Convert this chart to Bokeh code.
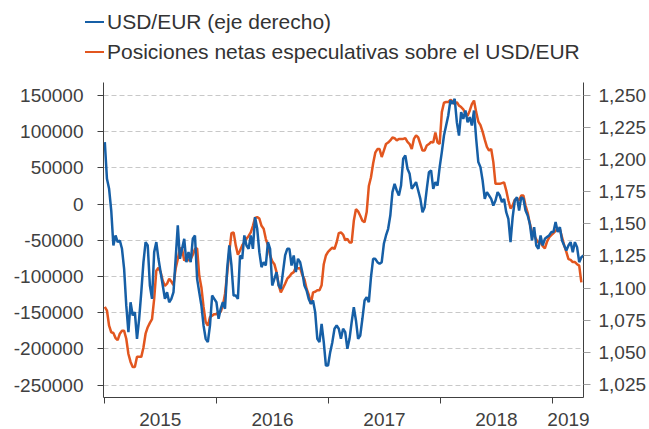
import pandas as pd
from bokeh.plotting import figure
from bokeh.layouts import column
from bokeh.models import (Range1d, LinearAxis, FixedTicker, NumeralTickFormatter,
                          CustomJSTickFormatter, DatetimeTickFormatter, Div)
from bokeh.embed import file_html
from bokeh.resources import INLINE

# ---------------- data ----------------
start_date = "2015-01-02"  # weekly observations

usd_eur = [
    1.2137, 1.1851, 1.1773, 1.1604, 1.1332, 1.1410, 1.1358, 1.1371, 1.1306, 1.1150,
    1.0865, 1.0657, 1.0890, 1.0787, 1.0813, 1.0605, 1.0761, 1.0968, 1.1202, 1.1358,
    1.1332, 1.1020, 1.0916, 1.1280, 1.1358, 1.1228, 1.1124, 1.1020, 1.0916, 1.0968,
    1.0890, 1.0916, 1.0968, 1.1228, 1.1488, 1.1228, 1.1306, 1.1384, 1.1202, 1.1280,
    1.1202, 1.1384, 1.1410, 1.1072, 1.0968, 1.0865, 1.0709, 1.0605, 1.0579, 1.0709,
    1.0942, 1.0916, 1.0890, 1.0761, 1.0839, 1.0890, 1.0839,
    1.1150, 1.1332, 1.1176, 1.0942, 1.0942, 1.0916, 1.1254, 1.1228, 1.1410, 1.1332,
    1.1306, 1.1410, 1.1306, 1.1552, 1.1462, 1.1280, 1.1163, 1.1202, 1.1176, 1.1358,
    1.1306, 1.1020, 1.1072, 1.1124, 1.1020, 1.0994, 1.1124, 1.1254, 1.1306, 1.1306,
    1.1176, 1.1254, 1.1124, 1.1228, 1.1202, 1.1124, 1.1020, 1.0981, 1.0916, 1.0878,
    1.0903, 1.0813, 1.0605, 1.0579, 1.0722, 1.0579, 1.0397, 1.0397, 1.0501, 1.0579,
    1.0683, 1.0709, 1.0683, 1.0605, 1.0683, 1.0657,
    1.0527, 1.0605, 1.0735, 1.0852, 1.0748, 1.0605, 1.0631, 1.0761, 1.0903, 1.0929,
    1.0890, 1.1085, 1.1228, 1.1228, 1.1202, 1.1189, 1.1202, 1.1345, 1.1410, 1.1462,
    1.1565, 1.1747, 1.1812, 1.1760, 1.1721, 1.1799, 1.2007, 1.2033, 1.1929, 1.1890,
    1.1773, 1.1799, 1.1825, 1.1760, 1.1695, 1.1591, 1.1630, 1.1773, 1.1903, 1.1916,
    1.1773, 1.1825, 1.1799, 1.1942, 1.2059, 1.2188, 1.2266, 1.2344, 1.2461, 1.2435,
    1.2474, 1.2292, 1.2188, 1.2370, 1.2318,
    1.2383, 1.2292, 1.2331, 1.2266, 1.2383, 1.2163, 1.1981, 1.1942, 1.1838, 1.1695,
    1.1747, 1.1721, 1.1695, 1.1643, 1.1682, 1.1747, 1.1721, 1.1669, 1.1695, 1.1591,
    1.1539, 1.1358, 1.1552, 1.1682, 1.1708, 1.1604, 1.1708, 1.1695, 1.1604, 1.1565,
    1.1501, 1.1371, 1.1475, 1.1332, 1.1306, 1.1410, 1.1332, 1.1384, 1.1397, 1.1410,
    1.1436, 1.1436, 1.1514, 1.1436, 1.1475, 1.1371, 1.1332, 1.1293, 1.1332, 1.1358,
    1.1280, 1.1358, 1.1319, 1.1202, 1.1241, 1.1254,
]

net_positions = [
    -142000, -147000, -168000, -177000, -178000, -185000, -188000, -179000, -175000, -175000,
    -186000, -207000, -218000, -225000, -225000, -211000, -211000, -211000, -198000, -179000,
    -170000, -164000, -159000, -131000, -92000, -88000, -94000, -106000, -113000, -110000,
    -103000, -107000, -112000, -89000, -76000, -61000, -62000, -78000, -76000, -78000,
    -76000, -70000, -62000, -61000, -99000, -115000, -142000, -163000, -168000, -156000,
    -154000, -152000, -152000, -149000, -149000, -140000, -124000,
    -96000, -66000, -40000, -39000, -57000, -70000, -64000, -57000, -53000, -48000,
    -44000, -39000, -30000, -19000, -18000, -20000, -30000, -34000, -48000, -57000,
    -71000, -79000, -83000, -94000, -112000, -122000, -116000, -110000, -103000, -100000,
    -96000, -94000, -87000, -89000, -88000, -98000, -104000, -117000, -125000, -138000,
    -122000, -121000, -119000, -119000, -112000, -83000, -71000, -66000, -63000, -60000,
    -62000, -53000, -40000, -39000, -42000, -50000,
    -48000, -53000, -53000, -23000, -7000, -10000, -16000, -23000, -25000, -11000,
    25000, 37000, 56000, 71000, 76000, 76000, 65000, 74000, 83000, 85000,
    88000, 92000, 91000, 88000, 90000, 90000, 90000, 91000, 86000, 83000,
    76000, 90000, 95000, 92000, 83000, 74000, 74000, 81000, 83000, 86000,
    85000, 99000, 85000, 83000, 127000, 140000, 141000, 141000, 144000, 142000,
    138000, 141000, 136000, 134000, 131000,
    125000, 122000, 129000, 138000, 143000, 127000, 114000, 109000, 100000, 89000,
    79000, 74000, 76000, 58000, 28000, 28000, 28000, 29000, 30000, 19000,
    5000, -6000, -2000, 6000, 7000, 5000, 12000, 12000, -2000, -12000,
    -27000, -39000, -43000, -49000, -53000, -53000, -58000, -61000, -52000, -46000,
    -43000, -40000, -37000, -34000, -35000, -46000, -57000, -66000, -76000, -77000,
    -80000, -80000, -83000, -85000, -108000,
]

left_ticks = [-250000, -200000, -150000, -100000, -50000, 0, 50000, 100000, 150000]
right_ticks = [1.025, 1.050, 1.075, 1.100, 1.125, 1.150, 1.175, 1.200, 1.225, 1.250]
year_boundaries = ["2015-01-01", "2016-01-01", "2017-01-01", "2018-01-01", "2019-01-01"]
year_label_dates = ["2015-07-02", "2016-07-02", "2017-07-02", "2018-07-02", "2019-02-22"]
legend_labels = ["USD/EUR (eje derecho)", "Posiciones netas especulativas sobre el USD/EUR"]

# ---------------- style ----------------
BLUE = "#165fa6"
ORANGE = "#e2561f"
TEXT = "#404040"
FONT = "Liberation Sans"
W = 649


def ms(d):
    return pd.Timestamp(d).value / 1e6


dates_fx = pd.date_range(start_date, periods=len(usd_eur), freq="7D")
dates_pos = pd.date_range(start_date, periods=len(net_positions), freq="7D")

# ---------------- main chart ----------------
p = figure(width=W, height=347, x_axis_type="datetime",
           output_backend="svg", toolbar_location=None,
           x_range=Range1d(ms("2014-12-28 18:00"), ms("2019-04-12")),
           y_range=Range1d(-267127, 167956),
           min_border_left=103, min_border_right=66,
           min_border_top=0, min_border_bottom=32)
p.extra_y_ranges = {"fx": Range1d(1.0148, 1.2601)}
p.outline_line_color = None
p.background_fill_color = "white"
p.border_fill_color = "white"

r_pos = p.line(dates_pos, net_positions, line_color=ORANGE, line_width=2.5)
r_fx = p.line(dates_fx, usd_eur, line_color=BLUE, line_width=2.5, y_range_name="fx")

# grid
p.xgrid.visible = False
p.ygrid.ticker = FixedTicker(ticks=left_ticks)
p.ygrid.grid_line_color = "#c8c8c8"
p.ygrid.grid_line_dash = "5 3"
p.ygrid.grid_line_width = 1

# left axis
ya = p.yaxis[0]
ya.ticker = FixedTicker(ticks=left_ticks)
ya.formatter = NumeralTickFormatter(format="0")
ya.major_tick_out = 6
ya.major_tick_in = 0
ya.minor_tick_out = 0
ya.minor_tick_in = 0
ya.major_label_standoff = 14

# right axis
ra = LinearAxis(y_range_name="fx", ticker=FixedTicker(ticks=right_ticks),
                formatter=CustomJSTickFormatter(code="return tick.toFixed(3).replace('.', ',');"))
ra.major_tick_out = 7
ra.major_tick_in = 0
ra.minor_tick_out = 0
ra.minor_tick_in = 0
ra.major_label_standoff = 8
ra.major_tick_line_color = "#a0a0a0"
p.add_layout(ra, "right")

# bottom axis
xa = p.xaxis[0]
xa.ticker = FixedTicker(ticks=[ms(d) for d in year_label_dates],
                        minor_ticks=[ms(d) for d in year_boundaries])
xa.formatter = DatetimeTickFormatter(years="%Y", months="%Y", days="%Y", hours="%Y",
                                     hourmin="%Y", minutes="%Y", minsec="%Y",
                                     seconds="%Y", milliseconds="%Y", microseconds="%Y")
xa.major_tick_out = 0
xa.major_tick_in = 0
xa.minor_tick_out = 6
xa.minor_tick_in = 0
xa.minor_tick_line_color = TEXT
xa.major_label_standoff = 9

for ax in (ya, ra, xa):
    ax.axis_line_color = TEXT
    ax.axis_line_width = 1
    ax.major_label_text_font = FONT
    ax.major_label_text_font_size = "19px"
    ax.major_label_text_color = TEXT
ya.major_tick_line_color = TEXT

# ---------------- legend strip (HTML) ----------------
rows = []
for i, (label, color) in enumerate(zip(legend_labels, [BLUE, ORANGE])):
    rows.append(
        f'<div style="position:absolute;left:85px;top:{9 + 30 * i}px;height:24px;'
        f'line-height:24px;white-space:nowrap;">'
        f'<span style="display:inline-block;width:19px;height:2px;background:{color};'
        f'vertical-align:middle;margin-right:3px;"></span>'
        f'<span style="vertical-align:middle;">{label}</span></div>'
    )
legend_html = (
    f'<div style="position:relative;width:{W}px;height:82px;'
    f"font-family:'{FONT}';font-size:21px;color:#333333;\">"
    + "".join(rows) + "</div>"
)
legend_div = Div(text=legend_html, width=W, height=82,
                 styles={"margin": "0", "padding": "0"})

layout = column(legend_div, p, spacing=0)
open("out.html", "w").write(file_html(layout, INLINE))
